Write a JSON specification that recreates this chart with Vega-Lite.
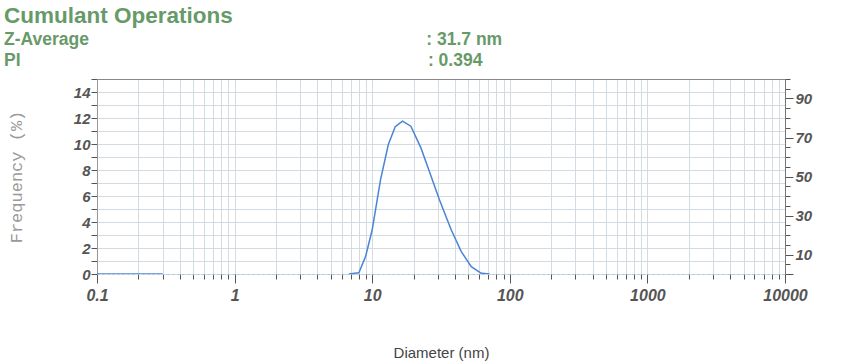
{
  "$schema": "https://vega.github.io/schema/vega-lite/v6.json",
  "width": 688,
  "height": 195,
  "autosize": {"type": "none"},
  "padding": {"left": 97, "top": 79, "right": 63, "bottom": 87},
  "background": "white",
  "config": {"view": {"stroke": null}},
  "title": {
    "text": "Cumulant Operations",
    "subtitle": ["Z-Average\u2003\u2003\u2003\u2003\u2003\u2003\u2003\u2003\u2003\u2003\u2003\u2003\u2003\u2003\u2003\u2003\u2003\u2003\u2003\u00a0: 31.7 nm", "PI\u2003\u2003\u2003\u2003\u2003\u2003\u2003\u2003\u2003\u2003\u2003\u2003\u2003\u2003\u2003\u2003\u2003\u2003\u2003\u2003\u2003\u2003\u2003\u00a0: 0.394"],
    "anchor": "start",
    "frame": "group",
    "dx": -93,
    "offset": 3,
    "font": "Liberation Sans",
    "fontSize": 22.5,
    "fontWeight": "bold",
    "color": "#679a68",
    "subtitleFont": "Liberation Sans",
    "subtitleFontSize": 17.5,
    "subtitleFontWeight": "bold",
    "subtitleColor": "#679a68",
    "subtitlePadding": 3,
    "subtitleLineHeight": 21
  },
  "data": {
    "values": [
      {"d": 0.1, "freq": 0, "seg": "a"},
      {"d": 0.3, "freq": 0, "seg": "a"},
      {"d": 6.76, "freq": 0, "seg": "b"},
      {"d": 8.0, "freq": 0.1, "seg": "b"},
      {"d": 8.95, "freq": 1.34, "seg": "b"},
      {"d": 10.0, "freq": 3.4, "seg": "b"},
      {"d": 11.5, "freq": 7.26, "seg": "b"},
      {"d": 13.1, "freq": 9.96, "seg": "b"},
      {"d": 14.7, "freq": 11.33, "seg": "b"},
      {"d": 16.6, "freq": 11.76, "seg": "b"},
      {"d": 19.1, "freq": 11.37, "seg": "b"},
      {"d": 22.6, "freq": 9.7, "seg": "b"},
      {"d": 26.0, "freq": 7.9, "seg": "b"},
      {"d": 30.8, "freq": 5.71, "seg": "b"},
      {"d": 37.5, "freq": 3.4, "seg": "b"},
      {"d": 44.4, "freq": 1.72, "seg": "b"},
      {"d": 52.5, "freq": 0.56, "seg": "b"},
      {"d": 62.1, "freq": 0.05, "seg": "b"},
      {"d": 71.5, "freq": 0, "seg": "b"}
    ]
  },
  "layer": [
    {
      "mark": {"type": "line", "color": "#4a84d6", "strokeWidth": 1.5, "clip": true},
      "encoding": {
        "detail": {"field": "seg"},
        "x": {
          "field": "d",
          "type": "quantitative",
          "scale": {"type": "log", "domain": [0.1, 10000]},
          "axis": {
            "values": [0.1, 0.2, 0.3, 0.4, 0.5, 0.6, 0.7, 0.8, 0.9, 1, 2, 3, 4, 5, 6, 7, 8, 9, 10, 20, 30, 40, 50, 60, 70, 80, 90, 100, 200, 300, 400, 500, 600, 700, 800, 900, 1000, 2000, 3000, 4000, 5000, 6000, 7000, 8000, 9000, 10000],
            "format": "~g",
            "labelExpr": "(datum.value == 0.1 || datum.value == 1 || datum.value == 10 || datum.value == 100 || datum.value == 1000 || datum.value == 10000) ? datum.label : ''",
            "labelOverlap": false,
            "labelFlush": false,
            "grid": true,
            "gridColor": "#d3dbe2",
            "gridWidth": 1,
            "domainColor": "#a9c4dc",
            "domainDash": [2, 3],
            "tickColor": "#555555",
            "tickSize": {"condition": {"test": "datum.value == 0.1 || datum.value == 1 || datum.value == 10 || datum.value == 100 || datum.value == 1000 || datum.value == 10000", "value": 9}, "value": 5},
            "labelPadding": 4,
            "labelFont": "Liberation Sans",
            "labelFontSize": 16,
            "labelFontWeight": "bold",
            "labelFontStyle": "italic",
            "labelColor": "#555555",
            "title": "Diameter (nm)",
            "titleFont": "Liberation Sans",
            "titleFontSize": 15,
            "titleFontWeight": "normal",
            "titleColor": "#444444",
            "titleY": 78,
            "titleBaseline": "middle"
          }
        },
        "y": {
          "field": "freq",
          "type": "quantitative",
          "scale": {"domain": [0, 15], "nice": false},
          "axis": {
            "values": [0, 1, 2, 3, 4, 5, 6, 7, 8, 9, 10, 11, 12, 13, 14, 15],
            "labelExpr": "(datum.value % 2 == 0 && datum.value < 15) ? datum.label : ''",
            "labelOverlap": false,
            "grid": true,
            "gridColor": "#d3dbe2",
            "domainColor": "#999999",
            "tickColor": "#555555",
            "tickSize": 6,
            "labelPadding": 1,
            "labelFont": "Liberation Sans",
            "labelFontSize": 15,
            "labelFontWeight": "bold",
            "labelFontStyle": "italic",
            "labelColor": "#555555",
            "title": "Frequency (%)",
            "titleFont": "Liberation Mono",
            "titleFontSize": 17,
            "titleFontWeight": "normal",
            "titleColor": "#9a9a9a",
            "titleX": -81,
            "titleY": 97.5,
            "titleAngle": 270,
            "titleAlign": "center",
            "titleBaseline": "middle"
          }
        }
      }
    },
    {
      "mark": {"type": "point", "opacity": 0},
      "encoding": {
        "x": {
          "datum": 1,
          "type": "quantitative",
          "scale": {"type": "log", "domain": [0.1, 10000]},
          "axis": {"orient": "top", "labels": false, "ticks": false, "grid": false, "title": null, "domainColor": "#888888"}
        },
        "y": {
          "datum": 0,
          "type": "quantitative",
          "scale": {"domain": [0, 100], "nice": false},
          "axis": {
            "orient": "right",
            "values": [0, 5, 10, 15, 20, 25, 30, 35, 40, 45, 50, 55, 60, 65, 70, 75, 80, 85, 90, 95, 100],
            "labelExpr": "(datum.value % 20 == 10) ? datum.label : ''",
            "labelOverlap": false,
            "grid": false,
            "domainColor": "#777777",
            "tickColor": "#555555",
            "tickSize": {"condition": {"test": "datum.value % 20 == 10 || datum.value == 0", "value": 8}, "value": 5},
            "labelPadding": 2,
            "labelFont": "Liberation Sans",
            "labelFontSize": 15,
            "labelFontWeight": "bold",
            "labelFontStyle": "italic",
            "labelColor": "#555555",
            "title": null
          }
        }
      }
    }
  ],
  "resolve": {"scale": {"x": "independent", "y": "independent"}, "axis": {"x": "independent", "y": "independent"}}
}
